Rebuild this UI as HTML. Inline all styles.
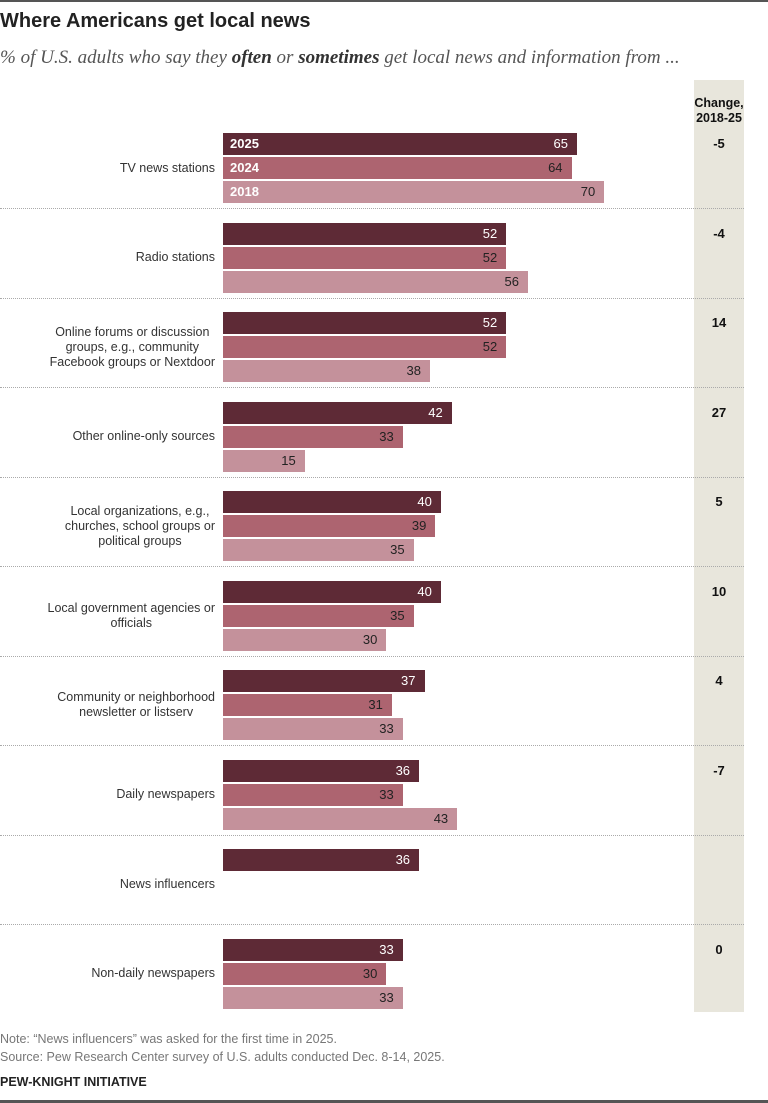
<!DOCTYPE html>
<html><head><meta charset="utf-8"><style>
body{margin:0;width:768px;height:1103px;background:#fff;font-family:"Liberation Sans",Arial,sans-serif;position:relative;overflow:hidden}
.a{position:absolute}
.bar{position:absolute;left:223px;height:22px}
.v{position:absolute;font-size:13px;text-align:right;line-height:22px}
.lab{position:absolute;right:553px;text-align:center;font-size:12.5px;color:#333;line-height:15px;white-space:nowrap}
.sep{position:absolute;left:0;width:744px;border-top:1px dotted #aaa;height:0}
.ch{position:absolute;left:694px;width:50px;text-align:center;font-weight:bold;font-size:13px;color:#111}
</style></head><body>
<div class="a" style="left:0;top:0;width:768px;height:2px;background:#555"></div>
<div class="a" style="left:0;top:1100px;width:768px;height:3px;background:#555"></div>
<div class="a" style="left:0;top:10px;font-size:20px;font-weight:bold;color:#222">Where Americans get local news</div>
<div class="a" style="left:0;top:47px;font-family:'Liberation Serif',serif;font-style:italic;font-size:19px;color:#555;white-space:nowrap">% of U.S. adults who say they <b style="color:#333">often</b> or <b style="color:#333">sometimes</b> get local news and information from ...</div>
<div class="a" style="left:694px;top:80px;width:50px;height:932px;background:#e8e6dc"></div>
<div class="a" style="left:684px;top:96px;width:70px;text-align:center;font-weight:bold;font-size:12.5px;line-height:15px;color:#111">Change,<br>2018-25</div>
<div id="c"></div>
<div class="a" style="left:0;top:1030px;font-size:12.5px;color:#777;line-height:18px">Note: “News influencers” was asked for the first time in 2025.<br>Source: Pew Research Center survey of U.S. adults conducted Dec. 8-14, 2025.</div>
<div class="a" style="left:0;top:1075px;font-size:12.5px;font-weight:bold;color:#222">PEW-KNIGHT INITIATIVE</div>
<script>
var d=[["TV news stations",65,64,70,"-5"],["Radio stations",52,52,56,"-4"],["Online forums or discussion<br>groups, e.g., community<br>Facebook groups or Nextdoor",52,52,38,"14"],["Other online-only sources",42,33,15,"27"],["Local organizations, e.g.,<br>churches, school groups or<br>political groups",40,39,35,"5"],["Local government agencies or<br>officials",40,35,30,"10"],["Community or neighborhood<br>newsletter or listserv",37,31,33,"4"],["Daily newspapers",36,33,43,"-7"],["News influencers",36,null,null,""],["Non-daily newspapers",33,30,33,"0"]];
var col=["#5e2a36","#ad6470","#c4919b"],tc=["#fff","#222","#222"],yr=["2025","2024","2018"];
var h="",s=5.446;
d.forEach(function(g,i){var t=133+i*89.5;
for(var k=0;k<3;k++){var v=g[k+1];if(v==null)continue;var w=v*s,y=t+k*24;
h+='<div class="bar" style="top:'+y+'px;width:'+w+'px;background:'+col[k]+'"></div>';
h+='<div class="v" style="top:'+y+'px;left:'+(223)+'px;width:'+(w-9)+'px;color:'+tc[k]+'">'+v+'</div>';
if(i==0)h+='<div class="v" style="top:'+y+'px;left:230px;color:#fff;font-weight:bold;text-align:left">'+yr[k]+'</div>';}
var n=(g[0].match(/<br>/g)||[]).length+1;
h+='<div class="lab" style="top:'+(t+35-n*7.5)+'px">'+g[0]+'</div>';
if(g[4])h+='<div class="ch" style="top:'+(t+3)+'px">'+g[4]+'</div>';
if(i<9)h+='<div class="sep" style="top:'+(t+75)+'px"></div>';});
document.getElementById("c").innerHTML=h;
</script>
</body></html>
